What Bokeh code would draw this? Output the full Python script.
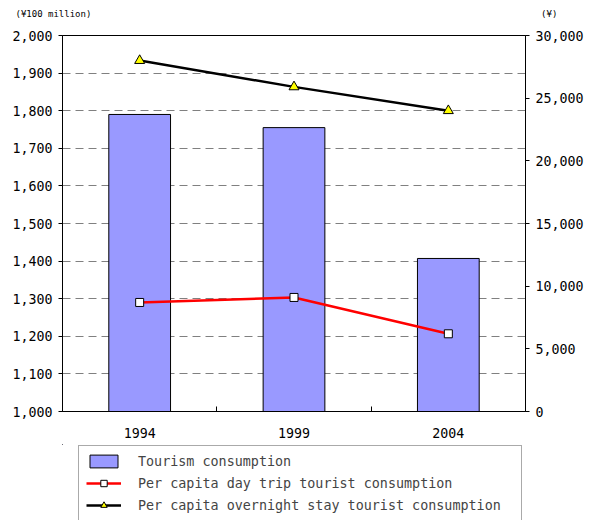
from bokeh.plotting import figure
from bokeh.layouts import column
from bokeh.models import (Range1d, LinearAxis, FixedTicker, NumeralTickFormatter,
                          Legend, LegendItem, Title)
from bokeh.embed import file_html
from bokeh.resources import INLINE

years = ["1994", "1999", "2004"]
tourism_consumption = [1790, 1755, 1407]
day_trip = [8700, 9100, 6200]
overnight = [28000, 25900, 24000]
left_ticks = list(range(1000, 2001, 100))
right_ticks = list(range(0, 30001, 5000))
left_unit = "(¥100 million)"
right_unit = "(¥)"
series_names = ["Tourism consumption",
                "Per capita day trip tourist consumption",
                "Per capita overnight stay tourist consumption"]

FONT = "DejaVu Sans Mono"
FS = "13.3px"
x = list(range(len(years)))

p = figure(width=591, height=444, output_backend="svg", toolbar_location=None,
           x_range=Range1d(-0.5, len(years) - 0.5), y_range=Range1d(1000, 2000),
           min_border_left=62, min_border_right=66, min_border_top=35, min_border_bottom=33)
p.extra_y_ranges = {"yen": Range1d(0, 30000)}
p.outline_line_color = "black"
p.outline_line_width = 1

BAR = dict(fill_color="#9999FF", line_color="black", line_width=1)
DAY_L = dict(line_color="#FF0000", line_width=2.5)
DAY_M = dict(marker="square", size=8, fill_color="white", line_color="black", line_width=1)
NIGHT_L = dict(line_color="black", line_width=2.5)
NIGHT_M = dict(marker="triangle", size=10, fill_color="#FFFF00", line_color="black", line_width=1)

p.vbar(x=x, top=tourism_consumption, bottom=1000, width=0.4, **BAR)
p.line(x, day_trip, y_range_name="yen", **DAY_L)
p.scatter(x, day_trip, y_range_name="yen", **DAY_M)
p.line(x, overnight, y_range_name="yen", **NIGHT_L)
p.scatter(x, overnight, y_range_name="yen", **NIGHT_M)

# grid
p.xgrid.visible = False
p.ygrid.ticker = FixedTicker(ticks=left_ticks)
p.ygrid.grid_line_color = "#808080"
p.ygrid.grid_line_dash = "8 5"

# x axis
xa = p.xaxis[0]
xa.ticker = FixedTicker(ticks=x, minor_ticks=[0.5, 1.5])
xa.major_label_overrides = {i: y for i, y in zip(x, years)}
xa.major_tick_line_color = None
xa.major_tick_in = 0
xa.major_tick_out = 0
xa.minor_tick_in = 5
xa.minor_tick_out = 0
xa.minor_tick_line_color = "black"
xa.axis_line_color = "black"
xa.major_label_standoff = 16
xa.major_label_text_font = FONT
xa.major_label_text_font_size = FS
xa.major_label_text_color = "black"

# left axis
ya = p.yaxis[0]
ya.ticker = FixedTicker(ticks=left_ticks)
ya.formatter = NumeralTickFormatter(format="0,0")
ya.major_tick_in = 0
ya.major_tick_out = 4
ya.minor_tick_line_color = None
ya.major_label_standoff = 6
ya.major_label_text_font = FONT
ya.major_label_text_font_size = FS
ya.major_label_text_color = "black"
ya.axis_line_color = "black"

# right axis
ra = LinearAxis(y_range_name="yen", ticker=FixedTicker(ticks=right_ticks),
                formatter=NumeralTickFormatter(format="0,0"))
ra.major_tick_in = 0
ra.major_tick_out = 4
ra.minor_tick_line_color = None
ra.major_label_standoff = 6
ra.major_label_text_font = FONT
ra.major_label_text_font_size = FS
ra.major_label_text_color = "black"
ra.axis_line_color = "black"
p.add_layout(ra, "right")

# unit labels (one title row; non-breaking spaces keep the gap, a blank
# second line lifts the row towards the top edge)
gap = "\u00a0" * 83
p.title = Title(text=left_unit + gap + right_unit + "\n\u00a0", align="left", offset=-47,
                standoff=10, vertical_align="top", text_font=FONT,
                text_font_size="9px", text_font_style="normal", text_color="black")

# legend panel below the chart (proxy renderers lie outside its visible range)
q = figure(width=591, height=76, output_backend="svg", toolbar_location=None,
           x_range=Range1d(100, 101), y_range=Range1d(0, 1), min_border=0,
           x_axis_location=None, y_axis_location=None, outline_line_color=None)
q.xgrid.visible = False
q.ygrid.visible = False
lb = q.vbar(x=x, top=tourism_consumption, bottom=1000, width=0.4, **BAR)
ld1 = q.line(x, day_trip, **DAY_L)
ld2 = q.scatter(x, day_trip, **DAY_M)
ln1 = q.line(x, overnight, **NIGHT_L)
ln2 = q.scatter(x, overnight, **NIGHT_M)

legend = Legend(items=[
    LegendItem(label=series_names[0], renderers=[lb]),
    LegendItem(label=series_names[1], renderers=[ld1, ld2]),
    LegendItem(label=series_names[2], renderers=[ln1, ln2]),
], location=(16, -1), padding=7, spacing=6, glyph_width=35, glyph_height=16,
    label_height=16, label_width=376, label_standoff=17, label_text_font=FONT,
    label_text_font_size="13.4px", border_line_color="#555555", border_line_width=1,
    background_fill_alpha=0, margin=0)
q.add_layout(legend, "center")

open("out.html", "w").write(file_html(column(p, q), INLINE))
